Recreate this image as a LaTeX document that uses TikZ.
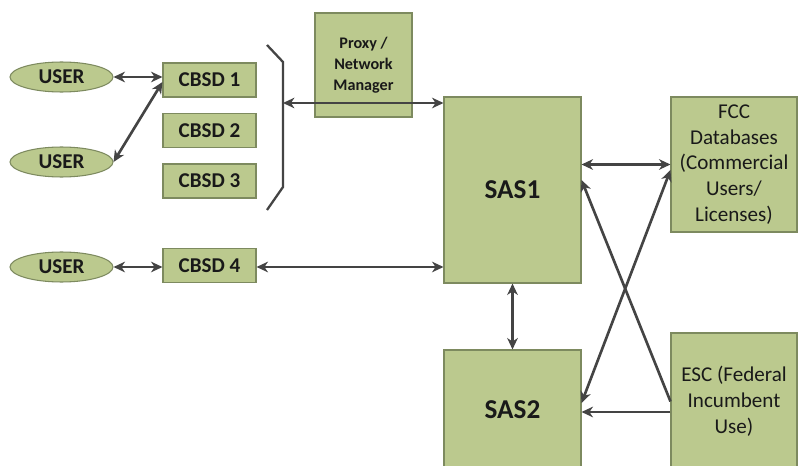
\documentclass[tikz,border=0pt]{standalone}
\usepackage{fontspec}
\setmainfont{Carlito}
\usetikzlibrary{arrows.meta}
\usetikzlibrary{shapes.geometric}

\definecolor{boxfill}{RGB}{187,201,142}
\definecolor{boxline}{RGB}{125,138,95}
\definecolor{arrowgray}{RGB}{68,68,68}

\begin{document}
\begin{tikzpicture}[x=0.02cm, y=-0.02cm,
  box/.style={draw=boxline, fill=boxfill, line width=0.6pt, align=center,
    inner sep=0pt, text=black!90, font=\fontsize{12}{14.7}\selectfont},
  userbox/.style={box, ellipse, minimum width=2.06cm, minimum height=0.6cm,
    font=\bfseries\fontsize{12}{14}\selectfont},
  cbsdbox/.style={box, minimum width=1.86cm, minimum height=0.68cm,
    font=\bfseries\fontsize{12}{14}\selectfont},
  sasbox/.style={box, minimum width=2.74cm, font=\bfseries\fontsize{15.5}{18}\selectfont},
  link/.style={draw=arrowgray, line width=1.5pt, >={Stealth[length=6.5pt,width=6pt,inset=2pt]}}]

  \clip (0,0) rectangle (798,466);
  \fill[white] (0,0) rectangle (798,466);

  \node[userbox] (user1) at (61.5,77) {USER};
  \node[userbox] (user2) at (61.5,162) {USER};
  \node[userbox] (user3) at (61.5,267) {USER};

  \node[cbsdbox] (cbsd1) at (209.5,80) {CBSD 1};
  \node[cbsdbox] (cbsd2) at (209.5,130.5) {CBSD 2};
  \node[cbsdbox] (cbsd3) at (209.5,181) {CBSD 3};
  \node[cbsdbox] (cbsd4) at (209.5,265.5) {CBSD 4};

  \node[box, minimum width=1.94cm, minimum height=2.08cm,
    font=\bfseries\fontsize{9.2}{12}\selectfont] (proxy) at (363.5,65)
    {Proxy /\\Network\\Manager};

  \node[sasbox, minimum height=3.72cm] (sas1) at (512.5,190) {SAS1};
  \node[sasbox, minimum height=2.4cm] (sas2) at (512.5,410) {SAS2};

  \node[box, minimum width=2.52cm, minimum height=2.7cm] (fcc) at (734,164.5)
    {FCC\\Databases\\(Commercial\\Users/\\Licenses)};
  \node[box, minimum width=2.52cm, minimum height=2.74cm] (esc) at (734,401.5)
    {ESC (Federal\\Incumbent\\Use)};

  % bracket round the CBSD group
  \draw[arrowgray, line width=1.3pt] (267,45) -- (283,62) -- (283,187) -- (267,210);
  \coordinate (brk) at (283,103);

  \draw[link, <->] (user1.east) -- (user1.east -| cbsd1.west);
  \draw[link, <->] (user2.east) -- ([yshift=-0.04cm]cbsd1.west);
  \draw[link, <->] (user3.east) -- (user3.east -| cbsd4.west);
  \draw[link, <->] (cbsd4.east |- user3.east) -- (user3.east -| sas1.west);
  \draw[link, <->] (brk) -- (brk -| sas1.west);
  \draw[link, <->] (sas1.south) -- (sas2.north);
  \draw[link, <->] (fcc.west) -- (fcc.west -| sas1.east);
  \draw[link, <->] ([yshift=-0.11cm]fcc.west) -- ([yshift=0.14cm]sas2.east);
  \draw[link, ->] (esc.west) -- ([yshift=0.2cm]sas1.east);
  \draw[link, ->] ([yshift=-0.21cm]esc.west) -- ([yshift=-0.21cm]esc.west -| sas2.east);

\end{tikzpicture}
\end{document}
